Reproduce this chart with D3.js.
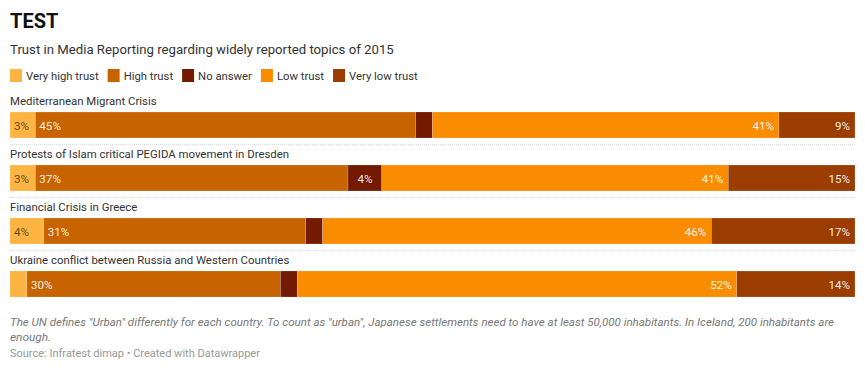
<!DOCTYPE html>
<html>
<head>
<meta charset="utf-8">
<script src="https://cdn.jsdelivr.net/npm/d3@7"></script>
<style>
  body { margin: 0; background: #fff; font-family: Roboto, "Noto Sans", sans-serif; }
  svg text { font-family: Roboto, "Noto Sans", sans-serif; }
</style>
</head>
<body>
<svg id="chart" width="865" height="369"></svg>
<script>
// data
const topics = [
  "Mediterranean Migrant Crisis",
  "Protests of Islam critical PEGIDA movement in Dresden",
  "Financial Crisis in Greece",
  "Ukraine conflict between Russia and Western Countries"
];
const categories = ["Very high trust", "High trust", "No answer", "Low trust", "Very low trust"];
const veryHigh = [3, 3, 4, 2];
const high     = [45, 37, 31, 30];
const noAnswer = [2, 4, 2, 2];
const low      = [41, 41, 46, 52];
const veryLow  = [9, 15, 17, 14];

const colors = ["#fdb443", "#c86400", "#731a00", "#fa8c00", "#9c3d00"];
const keys = ["veryHigh", "high", "noAnswer", "low", "veryLow"];

const left = 10, right = 855;
const svg = d3.select("#chart");

// rows as table built from the arrays
const rows = topics.map((t, i) => ({
  topic: t, veryHigh: veryHigh[i], high: high[i], noAnswer: noAnswer[i], low: low[i], veryLow: veryLow[i]
}));
const series = d3.stack().keys(keys)(rows);

const x = d3.scaleLinear().domain([0, 100]).range([left, right]);
const y = d3.scaleBand().domain(topics).range([86, 86 + 53 * topics.length]);
const color = d3.scaleOrdinal().domain(keys).range(colors);

//------------------------------HEADER------------------------------------
svg.append("text").text("TEST")
  .attr("x", 10).attr("y", 28)
  .attr("font-size", 20).attr("font-weight", 700).attr("fill", "#111");

svg.append("text").text("Trust in Media Reporting regarding widely reported topics of 2015")
  .attr("x", 10).attr("y", 54)
  .attr("font-size", 13.2).attr("fill", "#333");

// legend, laid out item after item
const legend = svg.append("g").attr("transform", "translate(10,69)");
let lx = 0;
categories.forEach((c, i) => {
  const item = legend.append("g").attr("transform", `translate(${lx},0)`);
  item.append("rect").attr("width", 12).attr("height", 13).attr("fill", colors[i]);
  const t = item.append("text").text(c)
    .attr("x", 16).attr("y", 11)
    .attr("font-size", 11.3).attr("fill", "#333");
  lx += 16 + t.node().getComputedTextLength() + 9;
});

//------------------------------ROWS------------------------------------
const rowG = svg.append("g");

rowG.selectAll(".rowLabel").data(topics).join("text")
  .attr("class", "rowLabel")
  .text(d => d)
  .attr("x", left).attr("y", d => y(d) + 19)
  .attr("font-size", 11.4).attr("fill", "#333");

// dotted separators between rows
rowG.selectAll(".sep").data(topics.slice(0, -1)).join("line")
  .attr("class", "sep")
  .attr("x1", left).attr("x2", right)
  .attr("y1", d => y(d) + 58.5).attr("y2", d => y(d) + 58.5)
  .attr("stroke", "#ddd").attr("stroke-dasharray", "1,1");

const layer = rowG.selectAll(".layer").data(series).join("g")
  .attr("class", "layer")
  .attr("fill", d => color(d.key));

layer.selectAll("rect").data(d => d).join("rect")
  .attr("x", d => x(d[0]))
  .attr("width", d => x(d[1]) - x(d[0]))
  .attr("y", d => y(d.data.topic) + 26)
  .attr("height", 26)
  .attr("stroke", "#fff").attr("stroke-opacity", 0.35).attr("stroke-width", 0.5);

// value labels
const minShow = { veryHigh: 3, high: 3, noAnswer: 4, low: 3, veryLow: 3 };
series.forEach((s, si) => {
  const k = s.key;
  rowG.append("g").selectAll("text")
    .data(s.filter(d => (d[1] - d[0]) >= minShow[k]))
    .join("text")
    .text(d => (d[1] - d[0]) + "%")
    .attr("x", d => {
      if (si <= 1) return x(d[0]) + 4;
      if (si === 2) return (x(d[0]) + x(d[1])) / 2;
      return x(d[1]) - 5;
    })
    .attr("text-anchor", si <= 1 ? "start" : si === 2 ? "middle" : "end")
    .attr("y", d => y(d.data.topic) + 43.5)
    .attr("font-size", 11.6)
    .attr("fill", si === 0 ? "#4a3310" : "#fff")
    .attr("fill-opacity", si === 0 ? 0.85 : 0.92);
});

//------------------------------FOOTER------------------------------------
const notes = [
  "The UN defines \"Urban\" differently for each country. To count as \"urban\", Japanese settlements need to have at least 50,000 inhabitants. In Iceland, 200 inhabitants are",
  "enough."
];
const noteText = svg.append("g").selectAll("text").data(notes).join("text")
  .text(d => d)
  .attr("x", 10).attr("y", (d, i) => 326 + i * 15)
  .attr("font-size", 11.8).attr("font-style", "italic").attr("fill", "#777");
// the first line is squeezed to the width it has in the picture
noteText.filter((d, i) => i === 0)
  .attr("textLength", 824).attr("lengthAdjust", "spacingAndGlyphs");

svg.append("text").text("Source: Infratest dimap \u2022 Created with Datawrapper")
  .attr("x", 10).attr("y", 357)
  .attr("font-size", 11).attr("fill", "#999");
</script>
</body>
</html>
